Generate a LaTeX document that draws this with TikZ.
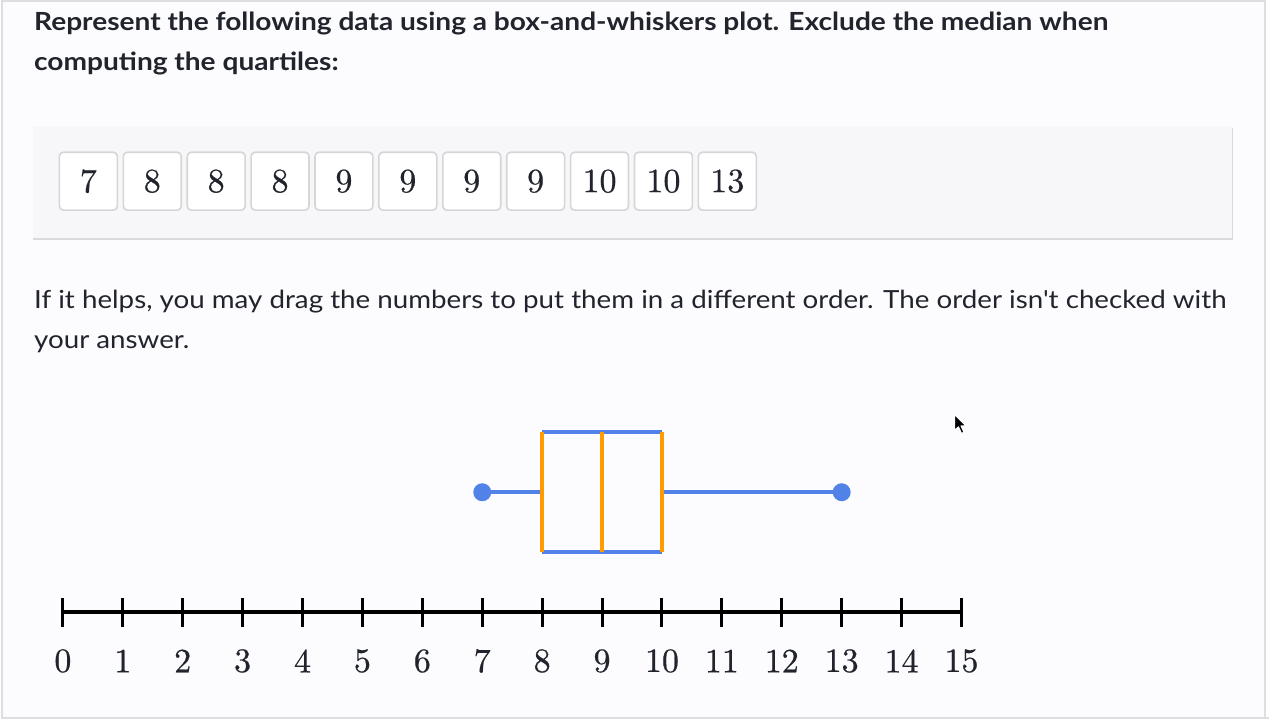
\documentclass[tikz,border=0pt]{standalone}
\usepackage{fontspec}
\newfontfamily\qfont{Lato}[FakeStretch=1.125]
\newfontfamily\hfont{Lato}[FakeStretch=1.111]
\newfontfamily\numfont{lmroman10-regular.otf}[FakeBold=0.6]
\definecolor{txt}{RGB}{33,36,44}
\definecolor{pagebg}{RGB}{252,252,254}
\definecolor{pageedge}{RGB}{222,222,224}
\definecolor{panelbg}{RGB}{247,246,248}
\definecolor{panelshadow}{RGB}{218,218,220}
\definecolor{tileedge}{RGB}{214,214,216}
\definecolor{plotblue}{RGB}{80,130,232}
\definecolor{plotorange}{RGB}{255,155,0}
\begin{document}
\begin{tikzpicture}[x=1pt,y=-1pt,
  tile/.style={draw=tileedge,line width=1.6pt,fill=white,rounded corners=4pt,minimum width=58pt,minimum height=58pt,inner sep=0pt,font=\numfont\fontsize{34}{34}\selectfont,text=txt},
  bold text/.style={anchor=base west,inner sep=0pt,font=\qfont\bfseries\fontsize{25}{25}\selectfont,text=txt},
  plain text/.style={anchor=base west,inner sep=0pt,font=\hfont\fontsize{25}{25}\selectfont,text=txt},
  axislabel/.style={inner sep=0pt,font=\numfont\fontsize{34}{34}\selectfont,text=txt},
  blueline/.style={draw=plotblue,line width=4pt},
  orangeline/.style={draw=plotorange,line width=4pt},
  dot/.style={circle,fill=plotblue,minimum size=18pt,inner sep=0pt}]
% page
\fill[white] (0,0) rectangle (1270,720);
\fill[pagebg] (0,0) rectangle (1266,718);
\draw[pageedge,line width=2pt] (1,720) -- (1,1) -- (1266,1) -- (1266,720);
\draw[pageedge,line width=2pt] (0,719) -- (1270,719);
\useasboundingbox (0,0) rectangle (1270,720);
% question
\node[bold text] (q1) at (33,31) {Represent the following data using a box-and-whiskers plot. Exclude the median when};
\node[bold text] (q2) at (33,71) {computing the quartiles:};
% panel
\fill[panelshadow] (32,128) rectangle (1234,240);
\fill[panelbg] (32,126) rectangle (1233,238);
% tiles
\foreach \v [count=\i] in {7,8,8,8,9,9,9,9,10,10,13}{
  \node[tile] (t\i) at ({87.5+64*(\i-1)},181.5) {\v};
}
% hint
\node[plain text] (h1) at (33,309) {If it helps, you may drag the numbers to put them in a different order. The order isn't checked with};
\node[plain text] (h2) at (33,349) {your answer.};
% axis
\coordinate (a0) at (62,613);
\coordinate (a15) at (962,613);
\draw[black,line width=4pt] (a0) -- (a15);
\foreach \k in {0,...,15}{
  \draw[black,line width=3pt] ({62+60*\k},599) -- ({62+60*\k},628);
  \node[axislabel] (l\k) at ({62+60*\k},662) {\k};
}
% box plot
\node[dot] (min) at (482,493) {};
\node[dot] (max) at (842,493) {};
\coordinate (q1b) at (542,493);
\coordinate (q3b) at (662,493);
\draw[blueline] (min) -- (q1b);
\draw[blueline] (q3b) -- (max.center);
\draw[blueline] (542,433) -- (662,433);
\draw[blueline] (542,553) -- (662,553);
\draw[orangeline] (542,433) -- (542,553);
\draw[orangeline] (602,433) -- (602,553);
\draw[orangeline] (662,433) -- (662,553);
% cursor
\filldraw[fill=black,draw=white,line width=1pt,line join=round] (955,415) -- (955,431) -- (959,427.5) -- (962,434) -- (964.5,433) -- (961.5,426.5) -- (966.5,426.5) -- cycle;
\end{tikzpicture}
\end{document}
